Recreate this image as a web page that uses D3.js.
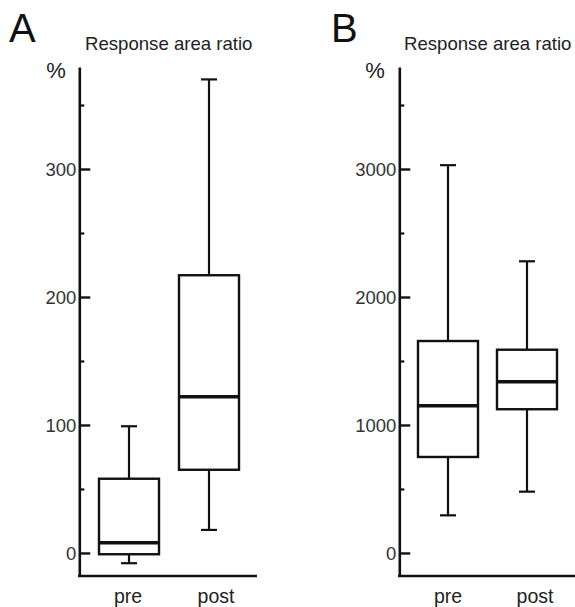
<!DOCTYPE html>
<html><head><meta charset="utf-8">
<script src="https://cdn.jsdelivr.net/npm/d3@7/dist/d3.min.js"></script>
<style>
body{margin:0;background:#fff;}
svg text{font-family:"Liberation Sans",Arial,sans-serif;}
</style></head>
<body><svg id="c" width="575" height="607"></svg>
<script>
const categories = ["pre", "post"];
// box statistics: [lowerWhisker, Q1, median, Q3, upperWhisker]
const statsA = [[-8, -1, 8, 58, 99], [18, 65, 122, 217, 370]];
const statsB = [[294, 750, 1150, 1656, 3030], [479, 1123, 1338, 1588, 2279]];
const majorTicksA = [0, 100, 200, 300];
const minorTicksA = [50, 150, 250, 350];
const majorTicksB = [0, 1000, 2000, 3000];
const minorTicksB = [500, 1500, 2500, 3500];
const panelLetters = ["A", "B"];
const titleText = "Response area ratio";
const unitText = "%";

const svg = d3.select("#c");

function panel(cfg){
  const g = svg.append("g");
  const y = d3.scaleLinear().domain(cfg.domain).range([576, 67]);
  const x = d3.scalePoint().domain(categories).range(cfg.xRange);
  const xl = d3.scalePoint().domain(categories).range(cfg.labelRange);
  const ax = cfg.axisX;

  // minor ticks
  const minor = g.append("g").attr("transform", `translate(${ax},0)`)
    .call(d3.axisLeft(y).tickValues(cfg.minor).tickSizeInner(-5).tickSizeOuter(0).tickFormat(""));
  minor.select(".domain").remove();
  minor.selectAll("line").attr("stroke", "#111").attr("stroke-width", 2.2);

  // major ticks + labels
  const major = g.append("g").attr("transform", `translate(${ax},0)`)
    .call(d3.axisLeft(y).tickValues(cfg.major).tickSizeInner(-11).tickSizeOuter(0).tickPadding(3).tickFormat(d3.format("d")));
  major.select(".domain").attr("stroke", "#111").attr("stroke-width", 2.6);
  major.selectAll("line").attr("stroke", "#111").attr("stroke-width", 2.4);
  major.selectAll("text").attr("font-size", 18.5).attr("fill", "#333")
    .attr("font-family", "Liberation Sans, Arial, sans-serif").attr("dy", "0.36em");

  // x axis line
  g.append("line").attr("x1", ax - 1.3).attr("x2", cfg.xEnd).attr("y1", 576).attr("y2", 576)
    .attr("stroke", "#111").attr("stroke-width", 2.6);

  // boxes
  const bw = 60, cw = 16;
  cfg.stats.forEach((s, i) => {
    const cx = x(categories[i]);
    const bg = g.append("g").attr("stroke", "#111").attr("fill", "none");
    bg.append("line").attr("x1", cx).attr("x2", cx).attr("y1", y(s[3])).attr("y2", y(s[4])).attr("stroke-width", 2.2);
    bg.append("line").attr("x1", cx).attr("x2", cx).attr("y1", y(s[1])).attr("y2", y(s[0])).attr("stroke-width", 2.2);
    bg.append("line").attr("x1", cx - cw/2).attr("x2", cx + cw/2).attr("y1", y(s[4])).attr("y2", y(s[4])).attr("stroke-width", 2.2);
    bg.append("line").attr("x1", cx - cw/2).attr("x2", cx + cw/2).attr("y1", y(s[0])).attr("y2", y(s[0])).attr("stroke-width", 2.2);
    bg.append("rect").attr("x", cx - bw/2).attr("width", bw).attr("y", y(s[3])).attr("height", y(s[1]) - y(s[3]))
      .attr("fill", "#fff").attr("stroke-width", 2.4);
    bg.append("line").attr("x1", cx - bw/2).attr("x2", cx + bw/2).attr("y1", y(s[2])).attr("y2", y(s[2])).attr("stroke-width", 3.4);
  });

  // category labels
  g.selectAll(".cat").data(categories).enter().append("text")
    .attr("x", d => xl(d)).attr("y", 603).attr("text-anchor", "middle")
    .attr("font-size", 19.5).attr("fill", "#222").text(d => d);

  // unit, title, letter
  g.append("text").attr("x", cfg.unitX).attr("y", 78).attr("text-anchor", "middle")
    .attr("font-size", 22).attr("fill", "#222").text(unitText);
  g.append("text").attr("x", cfg.titleX).attr("y", 50).attr("font-size", 18.6).attr("fill", "#222").text(titleText);
  g.append("text").attr("x", cfg.letterX).attr("y", 42).attr("font-size", 40).attr("fill", "#111").text(cfg.letter);
}

panel({domain: [-18, 379.7], xRange: [129, 209], labelRange: [128, 216], axisX: 79.3, xEnd: 257,
  stats: statsA, major: majorTicksA, minor: minorTicksA, unitX: 56, titleX: 85, letterX: 9, letter: panelLetters[0]});
panel({domain: [-180, 3797], xRange: [448, 527], labelRange: [448, 535], axisX: 399.3, xEnd: 575,
  stats: statsB, major: majorTicksB, minor: minorTicksB, unitX: 375, titleX: 404, letterX: 331, letter: panelLetters[1]});
</script></body></html>
